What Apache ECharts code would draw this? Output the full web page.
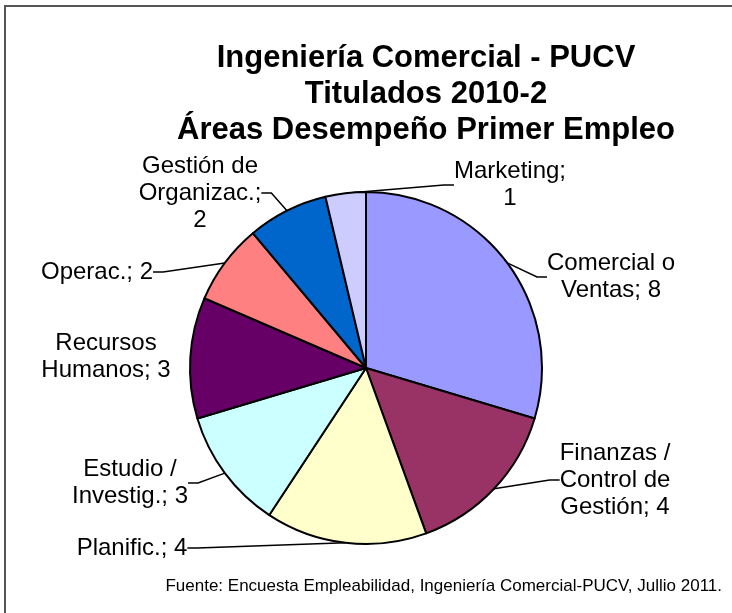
<!DOCTYPE html>
<html>
<head>
<meta charset="utf-8">
<script src="https://cdn.jsdelivr.net/npm/echarts@6/dist/echarts.min.js"></script>
<style>html,body{margin:0;padding:0;background:#fff}#c{width:732px;height:613px}</style>
</head>
<body>
<div id="c"></div>
<script>
const categories = ['Comercial o Ventas', 'Finanzas / Control de Gestión', 'Planific.', 'Estudio / Investig.', 'Recursos Humanos', 'Operac.', 'Gestión de Organizac.', 'Marketing'];
const values = [8, 4, 4, 3, 3, 2, 2, 1];
const colors = ['#9999FF', '#993366', '#FFFFCC', '#CCFFFF', '#660066', '#FF8080', '#0066CC', '#CCCCFF'];
const titleLines = ['Ingeniería Comercial - PUCV', 'Titulados 2010-2', 'Áreas Desempeño Primer Empleo'];
const sourceText = 'Fuente: Encuesta Empleabilidad, Ingeniería Comercial-PUCV, Jullio 2011.';

// label text wrapping as in the original chart
const labelWrap = {
  'Comercial o Ventas': 'Comercial o\nVentas; {v}',
  'Finanzas / Control de Gestión': 'Finanzas /\nControl de\nGestión; {v}',
  'Planific.': 'Planific.; {v}',
  'Estudio / Investig.': 'Estudio /\nInvestig.; {v}',
  'Recursos Humanos': 'Recursos\nHumanos; {v}',
  'Operac.': 'Operac.; {v}',
  'Gestión de Organizac.': 'Gestión de\nOrganizac.;\n{v}',
  'Marketing': 'Marketing;\n{v}'
};
// label centres (layout)
const labelCenters = [[611, 277], [615, 480], [132, 548], [130, 483], [106, 357], [97, 272], [200, 193], [510, 185]];

const chart = echarts.init(document.getElementById('c'), null, {renderer: 'canvas'});
chart.setOption({
  animation: false,
  backgroundColor: '#fff',
  title: {
    text: titleLines.join('\n'),
    left: 421, top: 35, textAlign: 'center',
    textStyle: {fontFamily: 'Liberation Sans, Arial', fontWeight: 'bold', fontSize: 31, lineHeight: 36, color: '#000'}
  },
  graphic: [
    {type: 'rect', shape: {x: 5, y: 6, width: 740, height: 620}, style: {fill: 'none', stroke: '#555', lineWidth: 2}, z: 100},
    {type: 'text', right: 10, top: 578, style: {text: sourceText, font: '17px "Liberation Sans", Arial', fill: '#000'}}
  ],
  series: [{
    type: 'pie',
    center: [366, 368],
    radius: 176,
    startAngle: 90,
    clockwise: true,
    avoidLabelOverlap: false,
    itemStyle: {borderColor: '#000', borderWidth: 2},
    label: {
      show: true,
      position: 'outside',
      fontFamily: 'Liberation Sans, Arial',
      fontSize: 24,
      lineHeight: 27,
      color: '#000',
      align: 'center',
      formatter: p => labelWrap[p.name].replace('{v}', p.value)
    },
    labelLine: {show: true, lineStyle: {color: '#000', width: 1.5}, length: 20, length2: 10, minTurnAngle: 90},
    labelLayout: p => ({x: labelCenters[p.dataIndex][0], y: labelCenters[p.dataIndex][1], align: 'center', verticalAlign: 'middle', hideOverlap: false}),
    data: categories.map((c, i) => ({
      name: c, value: values[i],
      itemStyle: {color: colors[i]},
      labelLine: {show: i !== 4}
    }))
  }]
});
</script>
</body>
</html>
